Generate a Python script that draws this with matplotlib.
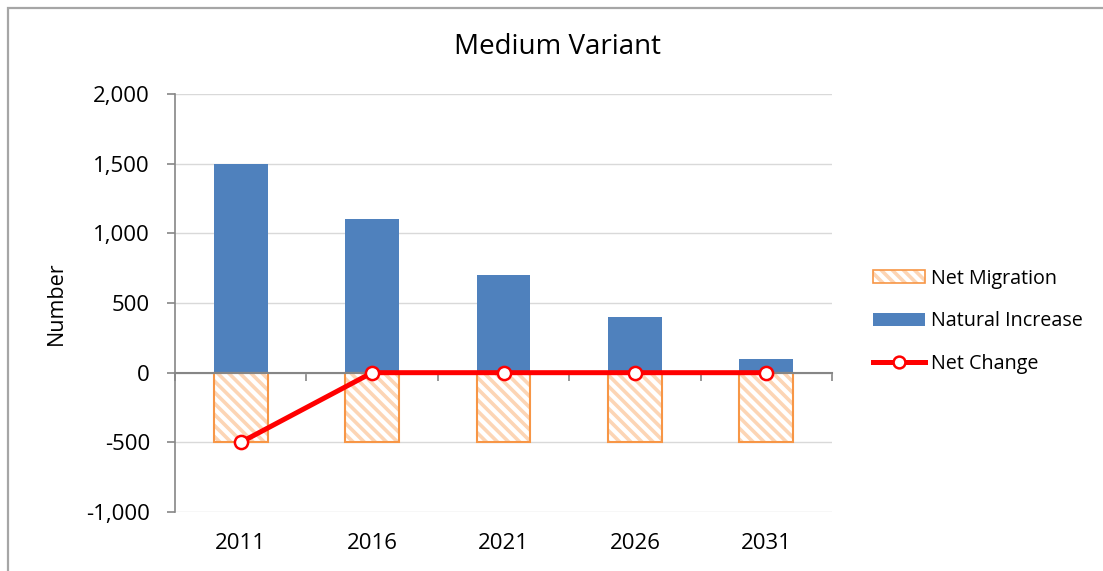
import matplotlib
matplotlib.use("Agg")
import matplotlib.pyplot as plt
from matplotlib.patches import Rectangle, Patch
from matplotlib.lines import Line2D
from matplotlib.ticker import FuncFormatter
import numpy as np

years = ["2011", "2016", "2021", "2026", "2031"]
natural_increase = [1500, 1100, 700, 400, 100]
net_migration = [-500, -500, -500, -500, -500]
net_change = [-500, 0, 0, 0, 0]

plt.rcParams['font.family'] = ['Open Sans', 'DejaVu Sans']
plt.rcParams['hatch.linewidth'] = 2.6

blue = '#4F81BD'
orange = '#F79646'
peach = '#FCD5B5'
axis_grey = '#868686'

fig = plt.figure(figsize=(11.03, 5.71), dpi=100)
ax = fig.add_axes([0.1587, 0.1033, 0.5956, 0.7321])

x = np.arange(len(years))
w = 0.41

ax.bar(x, natural_increase, w, color=blue, zorder=2)
# hatched fill first, then the orange outline on top
ax.bar(x, net_migration, w, color='white', edgecolor=peach, hatch='\\\\\\', linewidth=0, zorder=2)
ax.bar(x, net_migration, w, fill=False, edgecolor=orange, linewidth=1.5, zorder=3)
ax.plot(x, net_change, color='#FF0000', lw=3.6, marker='o', ms=9.5,
        mfc='white', mec='#FF0000', mew=1.8, zorder=5, clip_on=False)

ax.set_xlim(-0.5, len(years) - 0.5)
ax.set_ylim(-1000, 2000)
ax.set_yticks(np.arange(-1000, 2001, 500))
ax.yaxis.set_major_formatter(FuncFormatter(lambda v, p: f"{v:,.0f}"))
ax.grid(axis='y', color='#D9D9D9', lw=1, zorder=0)
ax.set_axisbelow(True)
ax.tick_params(axis='y', length=6, width=1.2, color=axis_grey, direction='out', pad=12, labelsize=16)

# category axis line crosses at zero, tick marks between the categories
ax.spines['bottom'].set_position(('data', 0))
ax.spines['bottom'].set_color(axis_grey)
ax.spines['bottom'].set_linewidth(1.5)
ax.spines['bottom'].set_zorder(4)
ax.set_xticks(np.arange(-0.5, len(years), 1.0))
ax.tick_params(axis='x', length=6, width=1.2, color=axis_grey, direction='out', labelbottom=False)

for s in ['top', 'right']:
    ax.spines[s].set_visible(False)
ax.spines['left'].set_color(axis_grey)
ax.spines['left'].set_linewidth(1.2)

# year labels stay at the bottom of the plot
cat = ax.secondary_xaxis('bottom')
cat.set_xticks(x)
cat.set_xticklabels(years)
cat.tick_params(axis='x', length=0, pad=15, labelsize=16)
cat.spines['bottom'].set_visible(False)

ax.set_ylabel("Number", fontsize=15.5, labelpad=14)
fig.text(0.505, 0.917, "Medium Variant", ha='center', va='center', fontsize=20)

# hatched legend key: peach stripes under an orange outline
mig_key = (Patch(facecolor='white', edgecolor=peach, hatch='\\\\\\', linewidth=0),
           Patch(fill=False, edgecolor=orange, linewidth=1.2))
handles = [
    mig_key,
    Patch(facecolor=blue),
    Line2D([0], [0], color='#FF0000', lw=3.6, marker='o', ms=8.5, mfc='white', mec='#FF0000', mew=1.8),
]
ax.legend(handles, ["Net Migration", "Natural Increase", "Net Change"],
          loc='center left', bbox_to_anchor=(1.035, 0.456), frameon=False,
          fontsize=14.2, handlelength=2.64, handleheight=0.6, labelspacing=1.15,
          handletextpad=0.3)

# chart border
fig.add_artist(Rectangle((8 / 1103, -0.2), 1.2, 1.2 - 8 / 571, transform=fig.transFigure,
                         fill=False, edgecolor='#A6A6A6', lw=1.6))

fig.savefig("out.png", dpi=100)
